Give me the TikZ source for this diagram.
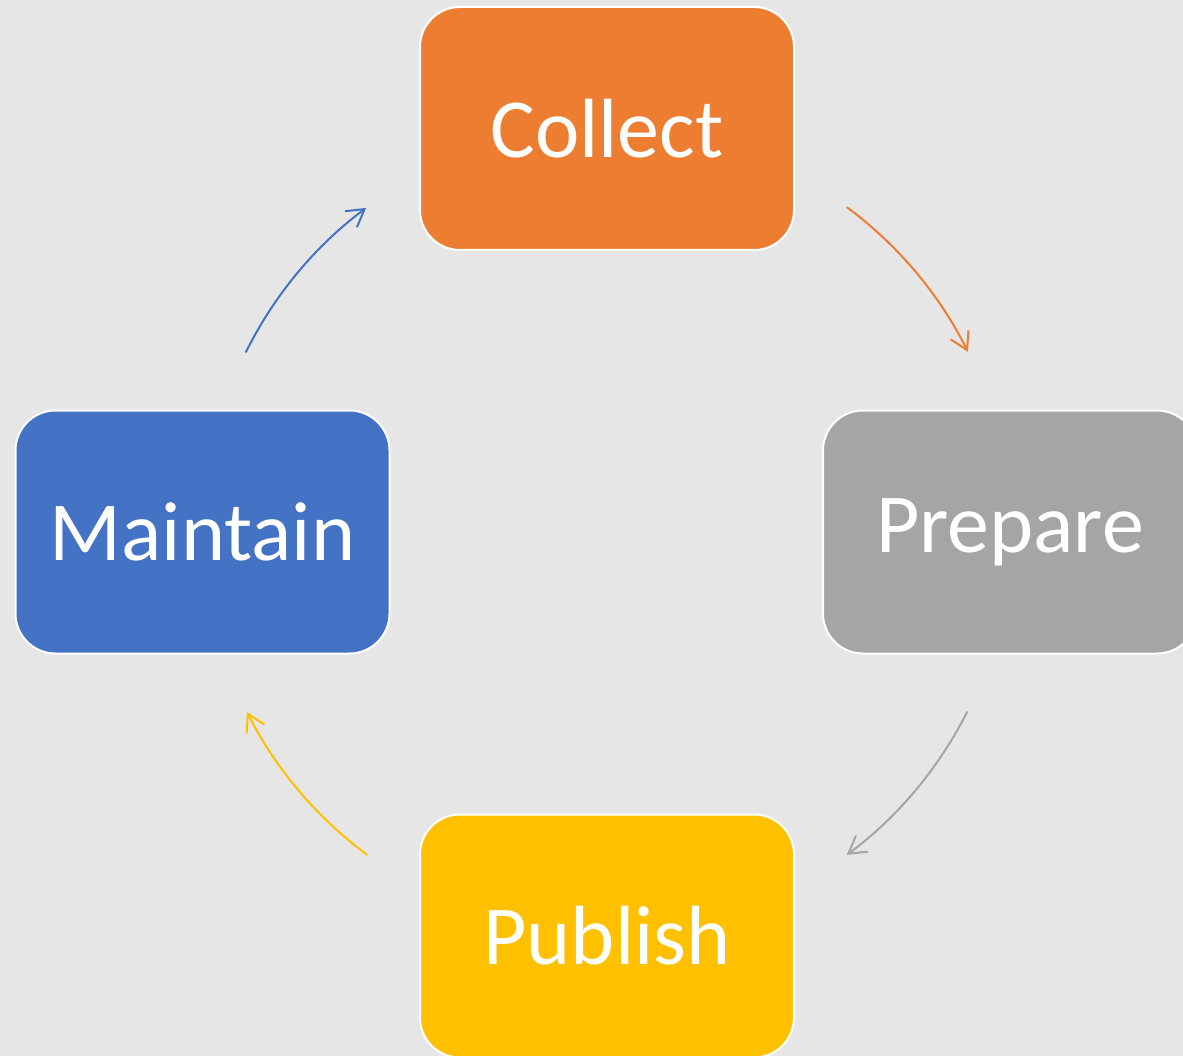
\documentclass[tikz,border=0pt]{standalone}
\usepackage{fontspec}
\setmainfont{Carlito}
\usetikzlibrary{arrows.meta,calc}
\definecolor{bgC}{HTML}{E7E6E6}
\definecolor{orangeC}{HTML}{ED7D31}
\definecolor{grayC}{HTML}{A5A5A5}
\definecolor{goldC}{HTML}{FFC000}
\definecolor{blueC}{HTML}{4472C4}
\begin{document}
\begin{tikzpicture}[x=1pt,y=-1pt,
  box/.style={draw=white, line width=2pt, rounded corners=40pt,
    minimum width=374pt, minimum height=243pt, inner sep=0pt,
    text=white, font=\fontsize{84}{100}\selectfont},
  cyc/.style={line width=2pt, -{Straight Barb[length=17pt,width=20pt]}}]
\useasboundingbox (0,0) rectangle (1183,1056);
\clip (0,0) rectangle (1183,1056);
\fill[bgC] (0,0) rectangle (1183,1056);
% boxes
\node[box, fill=orangeC] (collect)  at (607,128.5) {Collect};
\node[box, fill=grayC]   (prepare)  at (1010,532)  {Prepare};
\node[box, fill=goldC]   (publish)  at (607,936)   {Publish};
\node[box, fill=blueC]   (maintain) at (202.5,532) {Maintain};
% cycle arrows
\coordinate (c) at (607,531);
\coordinate (oS) at ($(c)+(-53.5:403)$);
\coordinate (gS) at ($(c)+(26.6:403)$);
\coordinate (yS) at ($(c)+(126.5:403)$);
\coordinate (bS) at ($(c)+(206.3:403)$);
\draw[cyc, orangeC] (oS) arc[start angle=-53.5, end angle=-26.4, radius=403];
\draw[cyc, grayC]   (gS) arc[start angle=26.6,  end angle=53.5,  radius=403];
\draw[cyc, goldC]   (yS) arc[start angle=126.5, end angle=153.3, radius=403];
\draw[cyc, blueC]   (bS) arc[start angle=206.3, end angle=233.3, radius=403];
\end{tikzpicture}
\end{document}
